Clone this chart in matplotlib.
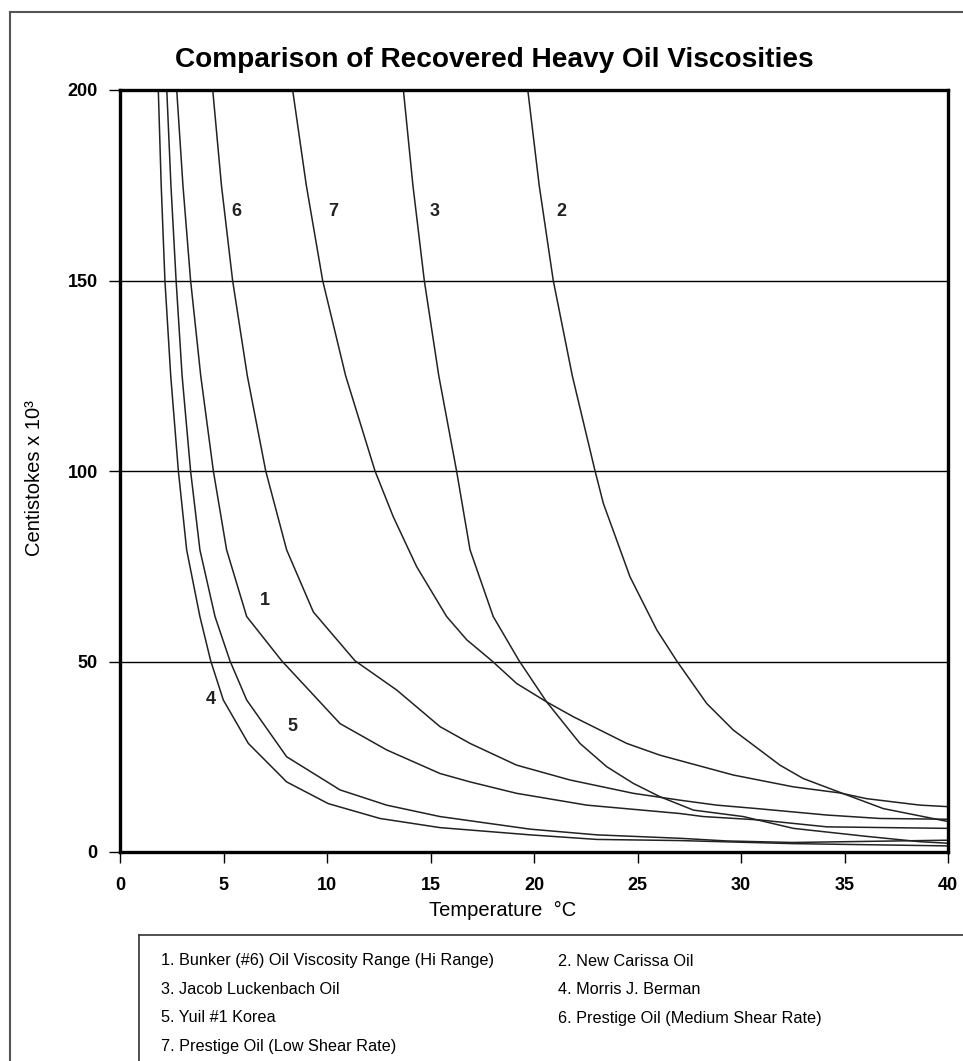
import matplotlib
matplotlib.use("Agg")
import matplotlib.pyplot as plt
from matplotlib.lines import Line2D

plt.rcParams['font.family'] = ['Liberation Sans', 'DejaVu Sans']

# curve data (temperature degC, centistokes x 10^3)
x1 = [2.74, 3.04, 3.41, 3.9, 4.51, 5.15, 6.12, 7.81, 10.63, 12.88, 15.46, 16.91, 19.16, 22.55, 27.05, 28.18, 30.92, 34.15, 40.0]
y1 = [200, 175, 150, 125, 100, 79.3, 61.8, 50.2, 33.7, 26.8, 20.6, 18.4, 15.4, 12.3, 10.1, 9.3, 8.4, 6.6, 6.2]

x2 = [19.70, 20.25, 20.93, 21.85, 22.95, 23.35, 24.64, 25.93, 26.89, 28.34, 29.63, 31.88, 33.0, 34.9, 36.87, 40.0]
y2 = [200, 175, 150, 125, 100, 91.5, 72.2, 58.3, 50.2, 39.0, 32.0, 22.8, 19.3, 15.4, 11.4, 8.0]

x3 = [13.69, 14.15, 14.70, 15.4, 16.26, 16.91, 18.03, 19.28, 20.61, 22.22, 23.51, 24.80, 26.09, 27.70, 30.11, 32.53, 36.07, 38.65, 40.0]
y3 = [200, 175, 150, 125, 100, 79.3, 61.8, 50.2, 39.4, 28.5, 22.4, 18.0, 14.5, 11.0, 9.3, 6.2, 4.1, 2.7, 2.3]

x4 = [1.85, 1.99, 2.17, 2.45, 2.82, 3.22, 3.86, 4.38, 4.99, 6.20, 8.05, 10.06, 12.56, 15.46, 19.81, 23.03, 27.05, 32.5, 40.0]
y4 = [200, 175, 150, 125, 100, 79.3, 61.8, 50.2, 39.9, 28.5, 18.4, 12.7, 8.8, 6.4, 4.5, 3.3, 3.0, 2.2, 1.6]

x5 = [2.26, 2.46, 2.71, 3.0, 3.41, 3.86, 4.59, 5.31, 6.12, 8.05, 10.63, 12.88, 15.46, 19.81, 23.03, 27.05, 29.3, 32.5, 40.0]
y5 = [200, 175, 150, 125, 100, 79.3, 61.8, 50.2, 39.9, 25.0, 16.3, 12.3, 9.3, 6.0, 4.5, 3.6, 2.9, 2.5, 3.1]

x6 = [4.48, 4.9, 5.44, 6.15, 7.04, 8.05, 9.34, 11.35, 13.37, 15.46, 16.91, 19.16, 21.74, 24.80, 27.05, 28.83, 30.76, 34.15, 36.71, 40.0]
y6 = [200, 175, 150, 125, 100, 79.3, 63.0, 50.2, 42.5, 32.9, 28.5, 22.8, 18.9, 15.4, 13.6, 12.3, 11.4, 9.7, 8.8, 8.6]

x7 = [8.34, 9.0, 9.79, 10.9, 12.32, 13.20, 14.33, 15.78, 16.75, 17.96, 19.17, 20.61, 21.90, 24.48, 26.09, 29.63, 32.53, 34.78, 36.07, 38.65, 40.0]
y7 = [200, 175, 150, 125, 100, 88.0, 74.9, 61.8, 55.7, 50.2, 44.2, 39.4, 35.5, 28.5, 25.4, 20.2, 17.1, 15.5, 14.0, 12.3, 11.9]

series_x = [x1, x2, x3, x4, x5, x6, x7]
series_y = [y1, y2, y3, y4, y5, y6, y7]

# curve number labels and where they sit
curve_ids = ['6', '7', '3', '2', '1', '4', '5']
label_x = [5.6, 10.3, 15.2, 21.3, 7.0, 4.4, 8.35]
label_y = [168, 168, 168, 168, 66, 40, 33]

legend_items = [
    "1. Bunker (#6) Oil Viscosity Range (Hi Range)",
    "2. New Carissa Oil",
    "3. Jacob Luckenbach Oil",
    "4. Morris J. Berman",
    "5. Yuil #1 Korea",
    "6. Prestige Oil (Medium Shear Rate)",
    "7. Prestige Oil (Low Shear Rate)",
]

W, H = 963, 1061
fig = plt.figure(figsize=(W / 100, H / 100), dpi=100)
ax = fig.add_axes([120 / W, 1 - 852 / H, (948 - 120) / W, (852 - 90) / H])

for xs, ys in zip(series_x, series_y):
    ax.plot(xs, ys, color='#222222', lw=1.1)

for t, lx, ly in zip(curve_ids, label_x, label_y):
    ax.text(lx, ly, t, fontsize=13, fontweight='bold', ha='center', va='center', color='#222222')

ax.set_xlim(0, 40)
ax.set_ylim(0, 200)
ax.set_xticks(range(0, 41, 5))
ax.set_yticks([0, 50, 100, 150, 200])
ax.yaxis.grid(True, color='black', lw=1.0)
ax.set_axisbelow(True)
for s in ax.spines.values():
    s.set_linewidth(2.4)
ax.tick_params(direction='out', length=8, width=1, labelsize=13)
ax.tick_params(axis='x', pad=10)
ax.tick_params(axis='y', pad=8)
for lab in ax.get_xticklabels() + ax.get_yticklabels():
    lab.set_fontweight('bold')

fig.text(494 / W, 1 - 60 / H, "Comparison of Recovered Heavy Oil Viscosities",
         fontsize=20.2, fontweight='bold', ha='center', va='center')
fig.text(503 / W, 1 - 910 / H, "Temperature  °C", fontsize=14.5, ha='center', va='center')
fig.text(34 / W, 1 - 478 / H, "Centistokes x 10³", fontsize=14.5, rotation=90, ha='center', va='center')

# outer frame (cut off on right and bottom)
fig.add_artist(Line2D([10 / W, 10 / W], [0, 1 - 12 / H], color='#555555', lw=1.5))
fig.add_artist(Line2D([10 / W, 1], [1 - 12 / H, 1 - 12 / H], color='#555555', lw=1.5))

# legend box
fig.add_artist(Line2D([139 / W, 139 / W], [0, 1 - 935 / H], color='#333333', lw=1.2))
fig.add_artist(Line2D([139 / W, 1], [1 - 935 / H, 1 - 935 / H], color='#333333', lw=1.2))
row_y = [961, 990, 1018, 1046]
for i, item in enumerate(legend_items):
    col = i % 2
    row = i // 2
    fig.text((161 if col == 0 else 558) / W, 1 - row_y[row] / H, item,
             fontsize=11.7, ha='left', va='center')

fig.savefig("out.png", dpi=100)
